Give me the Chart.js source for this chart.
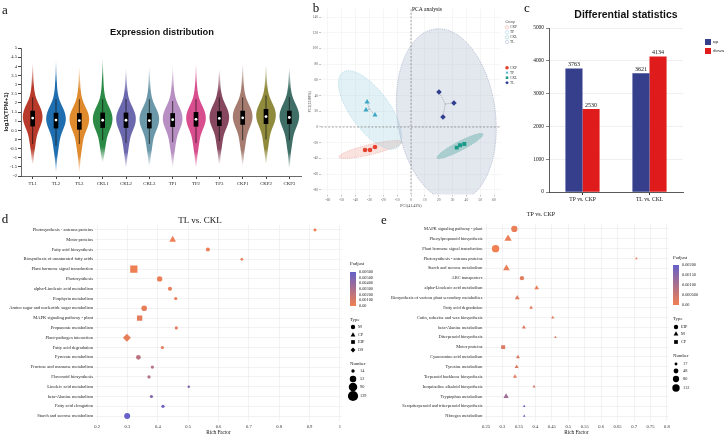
<!DOCTYPE html>
<html>
<head>
<meta charset="utf-8">
<title>Transcriptome overview</title>
<script src="https://cdn.jsdelivr.net/npm/chart.js@4.4.1/dist/chart.umd.min.js"></script>
<style>
  body { margin: 0; background: #fff; }
  #fig { position: relative; width: 725px; height: 437px; overflow: hidden; background: #fff; font-family: "Liberation Serif", serif; color: #111; }
  #fig canvas { position: absolute; }
  .lbl { position: absolute; white-space: nowrap; line-height: 1; transform: translate(-50%, -50%); z-index: 2; }
  .panel { font-size: 13px; }
  .sans { font-family: "Liberation Sans", Arial, sans-serif; font-weight: bold; }
</style>
</head>
<body>
<div id="fig">
  <canvas id="violinChart" width="310" height="200" style="left:0;top:0"></canvas>
  <canvas id="pcaChart" width="225" height="215" style="left:305px;top:0"></canvas>
  <canvas id="diffChart" width="205" height="210" style="left:520px;top:0"></canvas>
  <canvas id="keggTL" width="400" height="237" style="left:0;top:200px"></canvas>
  <canvas id="keggTP" width="365" height="237" style="left:360px;top:200px"></canvas>

  <div class="lbl panel" style="left:5px;top:9px">a</div>
  <div class="lbl sans" style="left:162px;top:33px;font-size:9.3px">Expression distribution</div>
  <div class="lbl panel" style="left:316px;top:7px">b</div>
  <div class="lbl" style="left:427px;top:10px;font-size:5.6px">PCA analysis</div>
  <div class="lbl panel" style="left:527px;top:7px">c</div>
  <div class="lbl sans" style="left:626px;top:14px;font-size:10.5px">Differential statistics</div>
  <div class="lbl panel" style="left:5px;top:218px">d</div>
  <div class="lbl" style="left:200px;top:220px;font-size:9px">TL vs. CKL</div>
  <div class="lbl panel" style="left:384px;top:219px">e</div>
  <div class="lbl" style="left:541px;top:214px;font-size:6px">TP vs. CKP</div>
</div>

<script>
// ---------- a: expression distribution ----------
const samples = ['TL1', 'TL2', 'TL3', 'CKL1', 'CKL2', 'CKL3', 'TP1', 'TP2', 'TP3', 'CKP1', 'CKP2', 'CKP3'];
const medianExpr = [1.17, 1.06, 1.03, 1.05, 1.05, 1.03, 1.08, 1.10, 1.15, 1.18, 1.25, 1.20];
const q1Expr = [0.73, 0.62, 0.55, 0.65, 0.65, 0.62, 0.70, 0.72, 0.75, 0.82, 0.86, 0.86];
const q3Expr = [1.55, 1.44, 1.42, 1.45, 1.45, 1.42, 1.42, 1.48, 1.52, 1.55, 1.65, 1.55];
const whiskerLow = [-0.25, -0.35, -0.25, -0.05, -0.2, -0.25, -0.15, -0.2, -0.1, -0.05, 0.0, -0.05];
const whiskerHigh = [2.3, 2.2, 2.2, 2.2, 2.2, 2.2, 2.1, 2.2, 2.3, 2.3, 2.4, 2.3];
const tailLow = [-1.4, -1.8, -1.8, -1.3, -1.6, -1.5, -1.6, -1.6, -1.4, -1.5, -1.4, -1.6];
const tailHigh = [4.2, 4.4, 4.0, 4.6, 3.9, 4.0, 4.1, 4.2, 3.9, 4.2, 4.1, 4.0];
// violin outline: relative density at offsets from the median
const densityOffsets = [-3.2, -2.8, -2.4, -2.0, -1.6, -1.2, -0.9, -0.6, -0.3, 0, 0.3, 0.6, 0.9, 1.2, 1.6, 2.0, 2.4, 2.8, 3.2, 3.6];
const densityShape = [0.02, 0.04, 0.08, 0.13, 0.24, 0.34, 0.45, 0.65, 0.88, 1.0, 0.95, 0.75, 0.48, 0.27, 0.14, 0.09, 0.06, 0.04, 0.02, 0.01];
const expressionTicks = [-2, -1.5, -1, -0.5, 0, 0.5, 1, 1.5, 2, 2.5, 3, 3.5, 4, 4.5, 5];
const violinColors = ['#b83a2a', '#1f6fb0', '#e08a2e', '#2b8a45', '#6c68ad', '#6b98a8',
                      '#b88fc2', '#d84d8e', '#87485f', '#a67c70', '#8f8a3c', '#3e6e66'];

// ---------- b: PCA ----------
const pcaGroups = ['CKP', 'TP', 'CKL', 'TL'];
const pc1CKP = [-33.2, -29.6, -26.0], pc2CKP = [-29.3, -29.3, -25.5];
const pc1TP = [-31.7, -32.5, -26.0], pc2TP = [31.8, 21.7, 15.3];
const pc1CKL = [33.0, 35.4, 38.5], pc2CKL = [-26.3, -23.3, -21.7];
const pc1TL = [20.2, 31.0, 23.1], pc2TL = [44.6, 30.6, 12.7];
const pc1Ticks = [-60, -50, -40, -30, -20, -10, 0, 10, 20, 30, 40, 50, 60];
const pc2Ticks = [-80, -60, -40, -20, 0, 20, 40, 60, 80, 100, 120, 140];
// confidence ellipses: centre, first and second half-axis vectors (data units)
const ellipseCKP = { cx: -29.3, cy: -28.7, ax: 22.7, ay: 9.6, bx: 0.84, by: -6.2 };
const ellipseTP = { cx: -29.6, cy: 21.7, ax: 19.8, ay: -47.8, bx: 11.4, by: 14.7 };
const ellipseCKL = { cx: 35.4, cy: -24.2, ax: 16.6, ay: 15.3, bx: 1.5, by: -5.07 };
const ellipseTL = { cx: 25.5, cy: 15, ax: -6.5, ay: 110, bx: 35.5, by: 3 };

// ---------- c: differential statistics ----------
const comparisons = ['TP vs. CKP', 'TL vs. CKL'];
const upCounts = [3763, 3621];
const downCounts = [2530, 4134];
const diffTicks = [0, 1000, 2000, 3000, 4000, 5000];

// ---------- d: KEGG TL vs. CKL ----------
const pathwaysTL = ['Photosynthesis - antenna proteins', 'Motor proteins', 'Fatty acid biosynthesis',
  'Biosynthesis of unsaturated fatty acids', 'Plant hormone signal transduction', 'Photosynthesis',
  'alpha-Linolenic acid metabolism', 'Porphyrin metabolism', 'Amino sugar and nucleotide sugar metabolism',
  'MAPK signaling pathway - plant', 'Propanoate metabolism', 'Plant-pathogen interaction',
  'Fatty acid degradation', 'Pyruvate metabolism', 'Fructose and mannose metabolism',
  'Flavonoid biosynthesis', 'Linoleic acid metabolism', 'beta-Alanine metabolism',
  'Fatty acid elongation', 'Starch and sucrose metabolism'];
const richTL = [0.918, 0.449, 0.565, 0.677, 0.321, 0.406, 0.44, 0.459, 0.355, 0.34,
                0.461, 0.298, 0.415, 0.336, 0.382, 0.371, 0.502, 0.379, 0.417, 0.299];
const countTL = [11, 47, 20, 9, 91, 36, 20, 13, 39, 48, 13, 65, 13, 27, 13, 13, 8, 13, 13, 44];
const padjTL = [0.0001, 0.0001, 0.0002, 0.0002, 0.0001, 0.0003, 0.0004, 0.0004, 0.0004, 0.0005,
                0.0006, 0.0004, 0.0006, 0.0024, 0.0026, 0.0027, 0.0048, 0.0046, 0.0056, 0.006];
const typeTL = ['M', 'CP', 'M', 'M', 'EIP', 'M', 'M', 'M', 'M', 'EIP',
                'M', 'OS', 'M', 'M', 'M', 'M', 'M', 'M', 'M', 'M'];
const richTicksTL = [0.2, 0.3, 0.4, 0.5, 0.6, 0.7, 0.8, 0.9, 1];

// ---------- e: KEGG TP vs. CKP ----------
const pathwaysTP = ['MAPK signaling pathway - plant', 'Phenylpropanoid biosynthesis', 'Plant hormone signal transduction',
  'Photosynthesis - antenna proteins', 'Starch and sucrose metabolism', 'ABC transporters',
  'alpha-Linolenic acid metabolism', 'Biosynthesis of various plant secondary metabolites', 'Fatty acid degradation',
  'Cutin, suberine and wax biosynthesis', 'beta-Alanine metabolism', 'Diterpenoid biosynthesis',
  'Motor proteins', 'Cyanoamino acid metabolism', 'Tyrosine metabolism',
  'Terpenoid backbone biosynthesis', 'Isoquinoline alkaloid biosynthesis', 'Tryptophan metabolism',
  'Sesquiterpenoid and triterpenoid biosynthesis', 'Nitrogen metabolism'];
const richTP = [0.336, 0.317, 0.279, 0.707, 0.312, 0.359, 0.404, 0.345, 0.387, 0.453,
                0.365, 0.461, 0.302, 0.347, 0.343, 0.338, 0.396, 0.311, 0.366, 0.366];
const countTP = [80, 92, 112, 12, 78, 38, 38, 43, 24, 19, 28, 12, 45, 28, 28, 28, 16, 50, 12, 12];
const padjTP = [0.0001, 0.0001, 0.0, 0.0001, 0.0001, 0.0002, 0.0001, 0.0002, 0.0002, 0.0002,
                0.0003, 0.0002, 0.0003, 0.0003, 0.0003, 0.00025, 0.0004, 0.00116, 0.0019, 0.0019];
const typeTP = ['EIP', 'M', 'EIP', 'M', 'M', 'EIP', 'M', 'M', 'M', 'M',
                'M', 'M', 'CP', 'M', 'M', 'M', 'M', 'M', 'M', 'M'];
const richTicksTP = [0.25, 0.3, 0.35, 0.4, 0.45, 0.5, 0.55, 0.6, 0.65, 0.7, 0.75, 0.8];

Chart.defaults.font.family = '"Liberation Serif", "Times New Roman", serif';
Chart.defaults.color = '#222';
Chart.defaults.animation = false;
const { drawPoint } = Chart.helpers;

function rgba(hex, a) {
  const n = parseInt(hex.slice(1), 16);
  return `rgba(${n >> 16},${(n >> 8) & 255},${n & 255},${a})`;
}

function smoothPath(ctx, pts) {
  ctx.moveTo(pts[0][0], pts[0][1]);
  for (let k = 1; k < pts.length - 1; k++) {
    const mx = (pts[k][0] + pts[k + 1][0]) / 2, my = (pts[k][1] + pts[k + 1][1]) / 2;
    ctx.quadraticCurveTo(pts[k][0], pts[k][1], mx, my);
  }
  const last = pts[pts.length - 1];
  ctx.lineTo(last[0], last[1]);
}

// Violin bodies and whiskers behind the boxes
const violinPlugin = {
  id: 'violins',
  beforeDatasetsDraw(chart) {
    const { ctx, scales: { x, y } } = chart;
    const half = x.width / samples.length * 0.43;
    ctx.save();
    samples.forEach((s, i) => {
      const cx = x.getPixelForValue(i);
      const prof = [[tailLow[i], 0]];
      densityOffsets.forEach((o, k) => {
        const v = medianExpr[i] + o;
        if (v > tailLow[i] && v < tailHigh[i]) prof.push([v, densityShape[k]]);
      });
      prof.push([tailHigh[i], 0]);
      const right = prof.map(([v, w]) => [cx + w * half, y.getPixelForValue(v)]);
      const left = prof.slice().reverse().map(([v, w]) => [cx - w * half, y.getPixelForValue(v)]);
      const yLo = y.getPixelForValue(tailLow[i]), yHi = y.getPixelForValue(tailHigh[i]);
      const span = tailHigh[i] - tailLow[i];
      const g = ctx.createLinearGradient(0, yLo, 0, yHi);
      g.addColorStop(0, rgba(violinColors[i], 0));
      g.addColorStop(0.9 / span, rgba(violinColors[i], 1));
      g.addColorStop(1 - 1.3 / span, rgba(violinColors[i], 1));
      g.addColorStop(1, rgba(violinColors[i], 0));
      ctx.beginPath();
      smoothPath(ctx, right.concat(left));
      ctx.closePath();
      ctx.fillStyle = g;
      ctx.fill();

      ctx.beginPath();
      ctx.moveTo(cx, y.getPixelForValue(whiskerLow[i]));
      ctx.lineTo(cx, y.getPixelForValue(whiskerHigh[i]));
      ctx.strokeStyle = '#111';
      ctx.lineWidth = 0.7;
      ctx.stroke();
    });
    ctx.restore();
  }
};

new Chart(document.getElementById('violinChart'), {
  type: 'bar',
  data: {
    labels: samples,
    datasets: [
      {
        type: 'line',
        data: medianExpr,
        showLine: false,
        pointRadius: 1.4,
        pointBackgroundColor: '#fff',
        pointBorderWidth: 0,
        order: 0
      },
      {
        data: samples.map((s, i) => [q1Expr[i], q3Expr[i]]),
        backgroundColor: '#000',
        barThickness: 4,
        order: 1
      }
    ]
  },
  options: {
    responsive: false,
    layout: { padding: { left: 0, top: 48, right: 9, bottom: 0 } },
    plugins: { legend: { display: false }, tooltip: { enabled: false } },
    scales: {
      x: {
        grid: { drawOnChartArea: false, offset: false, tickLength: 3, tickColor: '#444' },
        border: { color: '#444', width: 0.8 },
        ticks: { font: { size: 4.8 }, color: '#222', padding: 2 },
        afterFit: s => { s.height = 24; }
      },
      y: {
        min: -2,
        max: 5,
        afterBuildTicks: s => { s.ticks = expressionTicks.map(v => ({ value: v })); },
        grid: { drawOnChartArea: false, tickLength: 3, tickColor: '#444' },
        border: { color: '#444', width: 0.8 },
        ticks: { font: { size: 4.6 }, color: '#222', padding: 1, callback: v => String(v) },
        title: { display: true, text: 'log10(TPM+1)', font: { family: '"Liberation Sans", Arial', size: 6, weight: 'bold' }, color: '#111', padding: { top: 3, bottom: 0 } },
        afterFit: s => { s.width = 21; }
      }
    }
  },
  plugins: [violinPlugin]
});

// ---------- b ----------
const pcaStyle = {
  CKP: { color: '#e5432f', shape: 'circle', r: 2.3, fill: 'rgba(240,160,150,0.30)', line: '#eba39a', ring: '#f4a9a0', pc1: pc1CKP, pc2: pc2CKP, ell: ellipseCKP },
  TP: { color: '#3ea7c8', shape: 'triangle', r: 3.0, fill: 'rgba(150,205,220,0.28)', line: '#9acfe0', ring: '#a9d7e3', pc1: pc1TP, pc2: pc2TP, ell: ellipseTP },
  CKL: { color: '#1a9b89', shape: 'rect', r: 2.8, fill: 'rgba(40,160,140,0.38)', line: '#6cbcae', ring: '#9fd4cb', pc1: pc1CKL, pc2: pc2CKL, ell: ellipseCKL },
  TL: { color: '#323f8f', shape: 'rectRot', r: 2.8, fill: 'rgba(163,174,200,0.30)', line: '#9aa5c2', ring: '#b8c0d6', pc1: pc1TL, pc2: pc2TL, ell: ellipseTL }
};

const pcaPlugin = {
  id: 'pcaExtras',
  beforeDatasetsDraw(chart) {
    const { ctx, chartArea: a, scales: { x, y } } = chart;
    ctx.save();
    ctx.beginPath();
    ctx.rect(a.left, a.top, a.width, a.height);
    ctx.clip();
    // ellipses
    pcaGroups.forEach(gName => {
      const st = pcaStyle[gName], e = st.ell;
      ctx.beginPath();
      for (let k = 0; k <= 90; k++) {
        const t = k / 90 * Math.PI * 2;
        const px = x.getPixelForValue(e.cx + Math.cos(t) * e.ax + Math.sin(t) * e.bx);
        const py = y.getPixelForValue(e.cy + Math.cos(t) * e.ay + Math.sin(t) * e.by);
        k ? ctx.lineTo(px, py) : ctx.moveTo(px, py);
      }
      ctx.closePath();
      ctx.fillStyle = st.fill;
      ctx.fill();
      ctx.setLineDash([1.2, 1]);
      ctx.strokeStyle = st.line;
      ctx.lineWidth = 0.6;
      ctx.stroke();
    });
    // zero lines
    ctx.setLineDash([2, 1.6]);
    ctx.strokeStyle = '#666';
    ctx.lineWidth = 0.6;
    ctx.beginPath();
    ctx.moveTo(a.left, y.getPixelForValue(0));
    ctx.lineTo(a.right, y.getPixelForValue(0));
    ctx.moveTo(x.getPixelForValue(0), a.top);
    ctx.lineTo(x.getPixelForValue(0), a.bottom);
    ctx.stroke();
    // sample-to-centroid spokes
    ctx.setLineDash([1.2, 1]);
    ctx.strokeStyle = '#888';
    pcaGroups.forEach(gName => {
      const st = pcaStyle[gName];
      const mx = st.pc1.reduce((s, v) => s + v, 0) / st.pc1.length;
      const my = st.pc2.reduce((s, v) => s + v, 0) / st.pc2.length;
      ctx.beginPath();
      st.pc1.forEach((v, i) => {
        ctx.moveTo(x.getPixelForValue(mx), y.getPixelForValue(my));
        ctx.lineTo(x.getPixelForValue(v), y.getPixelForValue(st.pc2[i]));
      });
      ctx.stroke();
    });
    ctx.restore();
  },
  afterDraw(chart) {
    const ctx = chart.ctx;
    const lx = 202;
    ctx.save();
    ctx.font = '3.6px "Liberation Serif"';
    ctx.textBaseline = 'middle';
    ctx.fillStyle = '#444';
    ctx.fillText('Group', lx - 1.5, 21.7);
    const ringY = [27.3, 32.3, 37.3, 42];
    const markY = [67.7, 72.7, 77.7, 82.7];
    pcaGroups.forEach((gName, i) => {
      const st = pcaStyle[gName];
      ctx.beginPath();
      ctx.arc(lx, ringY[i], 1.7, 0, Math.PI * 2);
      ctx.strokeStyle = st.ring;
      ctx.lineWidth = 0.6;
      ctx.stroke();
      ctx.fillStyle = '#444';
      ctx.fillText(gName, lx + 3, ringY[i]);
      ctx.fillStyle = st.color;
      drawPoint(ctx, { pointStyle: st.shape, radius: 1.8, borderWidth: 0, rotation: 0 }, lx, markY[i]);
      ctx.fillStyle = '#444';
      ctx.fillText(gName, lx + 3, markY[i]);
    });
    ctx.restore();
  }
};

new Chart(document.getElementById('pcaChart'), {
  type: 'scatter',
  data: {
    datasets: pcaGroups.map(gName => {
      const st = pcaStyle[gName];
      return {
        label: gName,
        data: st.pc1.map((v, i) => ({ x: v, y: st.pc2[i] })),
        pointStyle: st.shape,
        pointRadius: st.r,
        backgroundColor: st.color,
        borderWidth: 0
      };
    })
  },
  options: {
    responsive: false,
    layout: { padding: { left: 0, top: 9.2, right: 29, bottom: 0 } },
    plugins: { legend: { display: false }, tooltip: { enabled: false } },
    scales: {
      x: {
        type: 'linear', min: -65, max: 65,
        afterBuildTicks: s => { s.ticks = pc1Ticks.map(v => ({ value: v })); },
        grid: { color: '#ececec', lineWidth: 0.5, tickLength: 2, tickColor: '#888' },
        border: { display: false },
        ticks: { font: { size: 3.6 }, color: '#555', padding: 1 },
        title: { display: true, text: 'PC1(41.43%)', font: { size: 3.9 }, color: '#333', padding: { top: 0, bottom: 7 } },
        afterFit: s => { s.height = 20.5; }
      },
      y: {
        type: 'linear', min: -86, max: 150,
        afterBuildTicks: s => { s.ticks = pc2Ticks.map(v => ({ value: v })); },
        grid: { color: '#ececec', lineWidth: 0.5, tickLength: 2, tickColor: '#888' },
        border: { display: false },
        ticks: { font: { size: 3.6 }, color: '#555', padding: 1 },
        title: { display: true, text: 'PC2(22.88%)', font: { size: 3.9 }, color: '#333', padding: { top: 3, bottom: 0 } },
        afterFit: s => { s.width = 16; }
      }
    }
  },
  plugins: [pcaPlugin]
});

// ---------- c ----------
const diffPlugin = {
  id: 'diffExtras',
  afterDatasetsDraw(chart) {
    const ctx = chart.ctx;
    ctx.save();
    ctx.font = '6px "Liberation Serif"';
    ctx.fillStyle = '#111';
    ctx.textAlign = 'center';
    ctx.textBaseline = 'bottom';
    chart.data.datasets.forEach((ds, d) => {
      chart.getDatasetMeta(d).data.forEach((bar, i) => {
        ctx.fillText(String(ds.data[i]), bar.x, bar.y - 1);
      });
    });
    // legend
    ctx.textAlign = 'left';
    ctx.textBaseline = 'middle';
    ctx.font = '5px "Liberation Serif"';
    chart.data.datasets.forEach((ds, d) => {
      const ly = 42 + d * 9;
      ctx.fillStyle = ds.backgroundColor;
      ctx.fillRect(185, ly - 3, 6, 6);
      ctx.fillStyle = '#111';
      ctx.fillText(ds.label, 193, ly);
    });
    ctx.restore();
  }
};

new Chart(document.getElementById('diffChart'), {
  type: 'bar',
  data: {
    labels: comparisons,
    datasets: [
      { label: 'up', data: upCounts, backgroundColor: '#353f8c' },
      { label: 'down', data: downCounts, backgroundColor: '#e01b1b' }
    ]
  },
  options: {
    responsive: false,
    layout: { padding: { left: 0, top: 28, right: 42, bottom: 0 } },
    datasets: { bar: { barPercentage: 1, categoryPercentage: 0.51 } },
    plugins: { legend: { display: false }, tooltip: { enabled: false } },
    scales: {
      x: {
        grid: { drawOnChartArea: false, offset: false, tickLength: 3, tickColor: '#333' },
        border: { color: '#333', width: 0.8 },
        ticks: { font: { size: 5.6 }, color: '#111', padding: 1 },
        afterFit: s => { s.height = 18; }
      },
      y: {
        min: 0, max: 5000,
        afterBuildTicks: s => { s.ticks = diffTicks.map(v => ({ value: v })); },
        grid: { color: '#e6e6e6', lineWidth: 0.6, tickLength: 3, tickColor: '#333' },
        border: { color: '#333', width: 0.8 },
        ticks: { font: { size: 5.4 }, color: '#111', padding: 2, callback: v => String(v) },
        afterFit: s => { s.width = 29; }
      }
    }
  },
  plugins: [diffPlugin]
});

// ---------- d / e ----------
const padjLow = [240, 128, 82], padjHigh = [102, 96, 200];
function padjColor(p, pmax) {
  const t = Math.min(1, Math.max(0, p / pmax));
  const c = padjLow.map((v, i) => Math.round(v + (padjHigh[i] - v) * t));
  return `rgb(${c[0]},${c[1]},${c[2]})`;
}
const shapeScale = { circle: 1, triangle: 1.25, rect: 1.2, rectRot: 1.1 };
function sizeOf(n, k, shape) {
  return k * Math.sqrt(n) * shapeScale[shape];
}

function keggLegend(L) {
  return {
    id: 'keggLegend',
    afterDraw(chart) {
      const ctx = chart.ctx;
      ctx.save();
      ctx.textBaseline = 'middle';
      ctx.textAlign = 'left';
      ctx.fillStyle = '#222';
      ctx.font = '4.8px "Liberation Serif"';
      ctx.fillText('Padjust', L.x, L.padTitleY);
      const g = ctx.createLinearGradient(0, L.barTop, 0, L.barBottom);
      g.addColorStop(0, padjColor(L.pmax, L.pmax));
      g.addColorStop(1, padjColor(0, L.pmax));
      ctx.fillStyle = g;
      ctx.fillRect(L.x, L.barTop, L.barW, L.barBottom - L.barTop);
      ctx.font = '4.3px "Liberation Serif"';
      ctx.fillStyle = '#222';
      L.padTicks.forEach((v, i) => {
        const yy = L.barBottom - (v / L.pmax) * (L.barBottom - L.barTop);
        ctx.fillText(L.padLabels[i], L.x + L.barW + 3, yy);
      });
      ctx.font = '4.8px "Liberation Serif"';
      ctx.fillText('Type', L.x, L.typeTitleY);
      ctx.font = '4.3px "Liberation Serif"';
      L.typeNames.forEach((t, i) => {
        ctx.fillStyle = '#000';
        drawPoint(ctx, { pointStyle: L.shapes[t], radius: 2.2 * shapeScale[L.shapes[t]], borderWidth: 0, rotation: 0 }, L.x + 3, L.typeY[i]);
        ctx.fillStyle = '#222';
        ctx.fillText(t, L.x + 8, L.typeY[i]);
      });
      ctx.font = '4.8px "Liberation Serif"';
      ctx.fillText('Number', L.x, L.numTitleY);
      ctx.font = '4.3px "Liberation Serif"';
      L.numValues.forEach((n, i) => {
        ctx.fillStyle = '#000';
        ctx.beginPath();
        ctx.arc(L.x + 3, L.numY[i], sizeOf(n, L.k, 'circle'), 0, Math.PI * 2);
        ctx.fill();
        ctx.fillStyle = '#222';
        ctx.fillText(String(n), L.x + 10, L.numY[i]);
      });
      ctx.restore();
    }
  };
}

function keggChart(id, cfg, legend) {
  return new Chart(document.getElementById(id), {
    type: 'bubble',
    data: {
      datasets: [{
        data: cfg.pathways.map((p, i) => ({
          x: cfg.rich[i], y: p, r: sizeOf(cfg.count[i], cfg.k, cfg.shapes[cfg.types[i]])
        })),
        pointStyle: c => cfg.shapes[cfg.types[c.dataIndex]],
        backgroundColor: c => padjColor(cfg.padj[c.dataIndex], cfg.pmax),
        borderWidth: 0,
        hoverRadius: 0
      }]
    },
    options: {
      responsive: false,
      layout: { padding: { left: 0, top: cfg.top, right: cfg.right, bottom: 0 } },
      plugins: { legend: { display: false }, tooltip: { enabled: false } },
      scales: {
        x: {
          type: 'linear', min: cfg.xMin, max: cfg.xMax,
          afterBuildTicks: s => { s.ticks = cfg.xTicks.map(v => ({ value: v })); },
          grid: { color: '#e9e9e9', lineWidth: 0.6, drawTicks: false },
          border: { display: false },
          ticks: { font: { size: 4.6 }, color: '#333', padding: 3, callback: v => String(v) },
          title: { display: true, text: 'Rich Factor', font: { size: 5.2 }, color: '#111', padding: { top: 0, bottom: 1 } },
          afterFit: s => { s.height = 16; }
        },
        y: {
          type: 'category', labels: cfg.pathways, offset: true,
          grid: { color: '#e9e9e9', lineWidth: 0.6, drawTicks: false, offset: false },
          border: { display: false },
          ticks: { font: { size: cfg.labelSize }, color: '#222', padding: 2, autoSkip: false },
          afterFit: s => { s.width = cfg.yW; }
        }
      }
    },
    plugins: [keggLegend(legend)]
  });
}

const shapesTL = { M: 'circle', CP: 'triangle', EIP: 'rect', OS: 'rectRot' };
keggChart('keggTL', {
  pathways: pathwaysTL, rich: richTL, count: countTL, padj: padjTL, types: typeTL,
  shapes: shapesTL, k: 0.45, pmax: 0.006, xMin: 0.193, xMax: 1.007, xTicks: richTicksTL,
  top: 25, right: 58, yW: 95, labelSize: 4.5
}, {
  x: 350, padTitleY: 64, barTop: 72, barBottom: 106, barW: 6, pmax: 0.006,
  padTicks: [0.006, 0.005, 0.004, 0.003, 0.002, 0.001, 0],
  padLabels: ['0.00600', '0.00500', '0.00400', '0.00300', '0.00200', '0.00100', '0.00'],
  typeTitleY: 120, typeY: [127, 135, 142, 150], typeNames: ['M', 'CP', 'EIP', 'OS'], shapes: shapesTL,
  numTitleY: 164, numY: [171, 179, 187, 196], numValues: [14, 52, 90, 129], k: 0.45
});

const shapesTP = { EIP: 'circle', M: 'triangle', CP: 'rect' };
keggChart('keggTP', {
  pathways: pathwaysTP, rich: richTP, count: countTP, padj: padjTP, types: typeTP,
  shapes: shapesTP, k: 0.35, pmax: 0.002, xMin: 0.245, xMax: 0.805, xTicks: richTicksTP,
  top: 24, right: 56.4, yW: 124.4, labelSize: 4.4
}, {
  x: 313, padTitleY: 58, barTop: 65, barBottom: 105, barW: 6, pmax: 0.002,
  padTicks: [0.002, 0.0015, 0.001, 0.0005, 0],
  padLabels: ['0.00200', '0.00150', '0.00100', '0.000500', '0.00'],
  typeTitleY: 119, typeY: [127, 134, 142], typeNames: ['EIP', 'M', 'CP'], shapes: shapesTP,
  numTitleY: 156, numY: [164, 171, 179, 188], numValues: [17, 48, 80, 112], k: 0.35
});
</script>
</body>
</html>
